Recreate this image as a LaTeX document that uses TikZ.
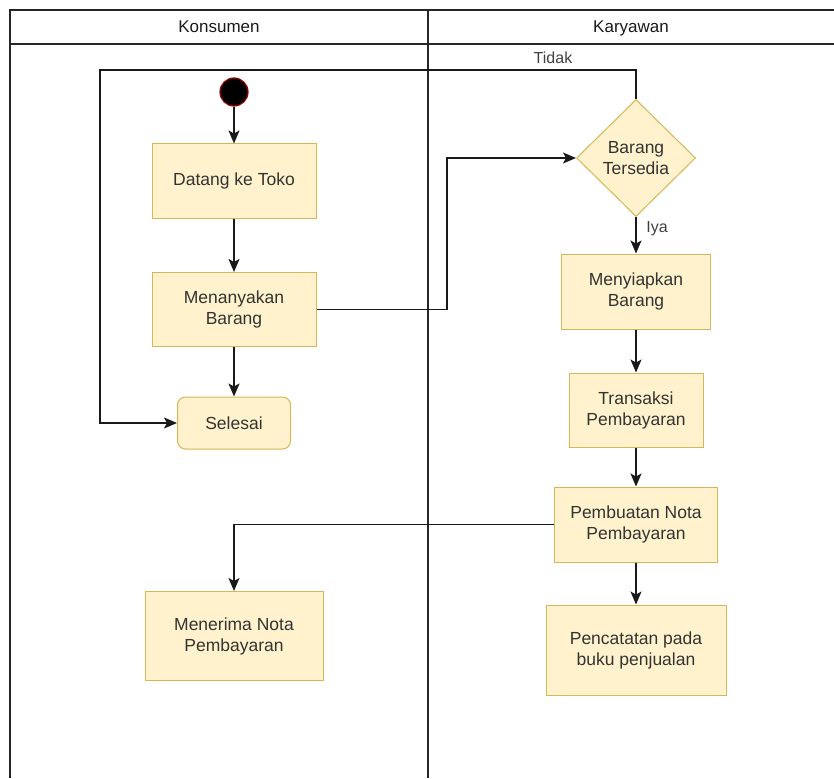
\documentclass[tikz,border=0pt]{standalone}
\usepackage{fontspec}
\setmainfont{Liberation Sans}
\usetikzlibrary{shapes.geometric,arrows.meta}
\definecolor{boxfill}{HTML}{FFF2CC}
\definecolor{boxline}{HTML}{D6B656}
\definecolor{txt}{HTML}{333333}
\definecolor{startred}{HTML}{990000}
\tikzset{
  act/.style={draw=boxline, fill=boxfill, line width=1pt, minimum width=164pt, minimum height=74pt, text=txt, align=center, font=\fontsize{17.5}{21}\selectfont},
  endbox/.style={act, rounded corners=8pt, minimum width=113pt, minimum height=52pt},
  dec/.style={draw=boxline, fill=boxfill, line width=1pt, diamond, minimum width=119pt, minimum height=117pt, inner sep=0pt, text=txt, align=center, font=\fontsize{17.5}{21}\selectfont},
  startdot/.style={circle, fill=black, draw=startred, line width=1.2pt, minimum size=28pt, inner sep=0pt},
  lane/.style={line width=1.5pt, draw=black!85},
  flow/.style={line width=1.4pt, draw=black!90, -{Stealth[length=13pt,width=11pt,inset=3pt]}},
  lbl/.style={text=black!75, font=\fontsize{16}{19}\selectfont},
  head/.style={text=black!90, font=\fontsize{17}{20}\selectfont, anchor=base}
}
\begin{document}
\begin{tikzpicture}[x=1pt,y=-1pt]
\useasboundingbox (0,0) rectangle (834,778);
% swimlanes
\draw[lane] (834,10) -- (10,10) -- (10,778);
\draw[lane] (10,44) -- (834,44);
\draw[lane] (428,10) -- (428,778);
\node[head] (hk) at (219,33) {Konsumen};
\node[head] (hr) at (631,33) {Karyawan};
% nodes
\node[startdot] (start) at (234,92) {};
\node[act] (datang) at (234,181) {Datang ke Toko};
\node[act] (tanya) at (234,309.5) {Menanyakan\\Barang};
\node[endbox] (selesai) at (234,423) {Selesai};
\node[dec] (cek) at (636,158) {Barang\\Tersedia};
\node[act, minimum width=149pt, minimum height=75pt] (siap) at (636,291.5) {Menyiapkan\\Barang};
\node[act, minimum width=134pt, minimum height=74pt] (trans) at (636,410) {Transaksi\\Pembayaran};
\node[act, minimum width=163pt, minimum height=75pt] (nota) at (636,524.5) {Pembuatan Nota\\Pembayaran};
\node[act, minimum width=178pt, minimum height=89pt] (terima) at (234,636) {Menerima Nota\\Pembayaran};
\node[act, minimum width=180pt, minimum height=90pt] (catat) at (636,650) {Pencatatan pada\\buku penjualan};
\coordinate (loopA) at (636,70);
\coordinate (loopB) at (100,70);
\coordinate (loopC) at (100,423);
\coordinate (q1) at (447,309.5);
\coordinate (q2) at (447,158);
\coordinate (n1) at (234,524.5);
% connectors
\draw[flow] (start) -- (datang);
\draw[flow] (datang) -- (tanya);
\draw[flow] (tanya) -- (selesai);
\draw[flow] (tanya.east) -- (q1) -- (q2) -- (cek.west);
\draw[flow] (cek.north) -- (loopA) -- (loopB) -- (loopC) -- (selesai.west);
\node[lbl] (tidak) at (553,58) {Tidak};
\draw[flow] (cek.south) -- (siap.north);
\node[lbl] (iya) at (657,229) {Iya};
\draw[flow] (siap) -- (trans);
\draw[flow] (trans) -- (nota);
\draw[flow] (nota.west) -- (n1) -- (terima.north);
\draw[flow] (nota) -- (catat);
\end{tikzpicture}
\end{document}
